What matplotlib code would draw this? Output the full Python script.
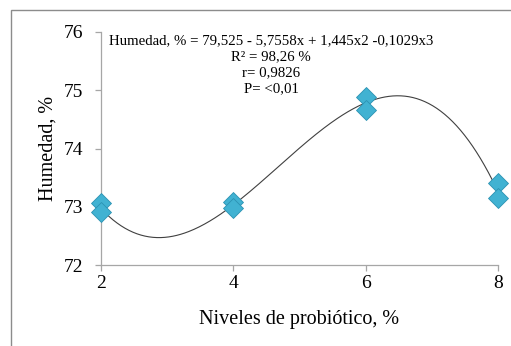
import numpy as np
import matplotlib.pyplot as plt
from matplotlib.patches import Rectangle

plt.rcParams['font.family'] = ['Liberation Serif', 'DejaVu Serif']

# Observed values (two replicates per level)
niveles = [2, 2, 4, 4, 6, 6, 8, 8]
humedad = [73.07, 72.92, 73.08, 72.99, 74.89, 74.66, 73.41, 73.15]

# Cubic trendline coefficients as printed on the chart (b0, b1, b2, b3)
coef = [79.525, -5.7558, 1.445, -0.1029]

eq_lines = ['Humedad, % = 79,525 - 5,7558x + 1,445x2 -0,1029x3',
            'R² = 98,26 %',
            'r= 0,9826',
            'P= <0,01']

fig = plt.figure(figsize=(5.11, 3.46), dpi=100)
ax = fig.add_axes([0.198, 0.233, 0.776, 0.675])

# outer frame of the chart area
fig.patches.append(Rectangle((11 / 511, -0.01), 1.1, 1 - 10 / 346 + 0.01,
                             transform=fig.transFigure, fill=False,
                             edgecolor='#8c8c8c', linewidth=1.0))

xs = np.linspace(2, 8, 300)
ys = coef[0] + coef[1] * xs + coef[2] * xs**2 + coef[3] * xs**3
ax.plot(xs, ys, color='#404040', linewidth=0.8, zorder=2)

ax.plot(niveles, humedad, linestyle='none', marker='D', markersize=10,
        markerfacecolor='#41b2d2', markeredgecolor='#2b92b3',
        markeredgewidth=0.6, zorder=3, clip_on=False)

ax.set_xlim(2, 8)
ax.set_ylim(72, 76)
ax.set_xticks([2, 4, 6, 8])
ax.set_yticks([72, 73, 74, 75, 76])

for s in ['top', 'right']:
    ax.spines[s].set_visible(False)
for s in ['left', 'bottom']:
    ax.spines[s].set_color('#a6a6a6')
    ax.spines[s].set_linewidth(0.9)

ax.tick_params(direction='out', length=4, width=0.9, color='#a6a6a6',
               labelsize=14)
ax.tick_params(axis='y', pad=9)
ax.tick_params(axis='x', pad=3)

ax.set_xlabel('Niveles de probiótico, %', fontsize=14.5, labelpad=13)
ax.set_ylabel('Humedad, %', fontsize=14.5, labelpad=4)

ys_txt = [41, 57, 73, 89]
for t, yp in zip(eq_lines, ys_txt):
    fig.text(271 / 511, 1 - yp / 346, t, ha='center', va='center',
             fontsize=10.7)

fig.savefig('out.png', dpi=100)
